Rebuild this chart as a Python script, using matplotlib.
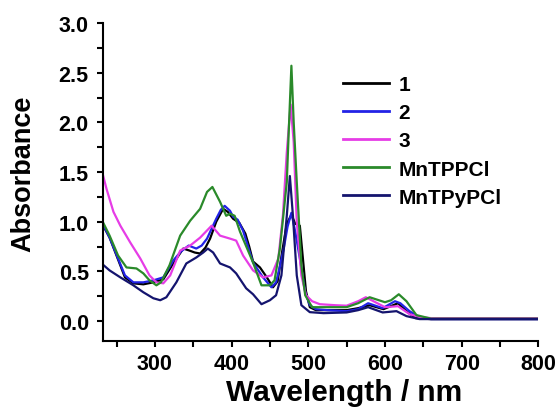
import matplotlib
matplotlib.use("Agg")
import matplotlib.pyplot as plt
from matplotlib.ticker import MultipleLocator

plt.rcParams['font.family'] = ['Liberation Sans', 'DejaVu Sans']
plt.rcParams['font.weight'] = 'bold'

# UV-vis spectra
wl_1 = [232, 241, 252, 261, 272, 285, 298, 311, 324, 337, 345, 352, 359, 366, 372, 380,
        389, 395, 402, 410, 418, 423, 428, 437, 446, 454, 460, 466, 472, 478, 483, 489,
        493, 497, 502, 510, 525, 550, 565, 580, 598, 617, 628, 640, 660, 700, 750, 800]
abs_1 = [0.97, 0.84, 0.62, 0.44, 0.38, 0.37, 0.39, 0.42, 0.58, 0.73, 0.71, 0.69, 0.68, 0.74,
         0.83, 1.00, 1.13, 1.10, 1.03, 0.99, 0.88, 0.75, 0.60, 0.54, 0.44, 0.34, 0.40, 0.70,
         0.98, 1.07, 0.98, 0.96, 0.63, 0.30, 0.14, 0.11, 0.11, 0.11, 0.13, 0.16, 0.12, 0.18,
         0.10, 0.03, 0.02, 0.02, 0.02, 0.02]

wl_2 = [232, 241, 252, 261, 272, 285, 298, 311, 324, 334, 344, 354, 361, 368, 374, 380,
        386, 391, 398, 402, 408, 415, 419, 428, 441, 452, 458, 463, 468, 473, 478, 483,
        489, 496, 502, 510, 525, 550, 565, 578, 597, 613, 620, 632, 645, 660, 700, 750, 800]
abs_2 = [0.98, 0.84, 0.63, 0.46, 0.39, 0.39, 0.41, 0.44, 0.61, 0.70, 0.76, 0.73, 0.76, 0.83,
         0.93, 1.03, 1.12, 1.16, 1.11, 1.05, 1.02, 0.91, 0.81, 0.59, 0.44, 0.34, 0.39, 0.55,
         0.73, 0.95, 1.09, 0.90, 0.63, 0.29, 0.16, 0.12, 0.11, 0.10, 0.12, 0.18, 0.13, 0.20,
         0.18, 0.10, 0.04, 0.02, 0.02, 0.02, 0.02]

wl_3 = [232, 237, 246, 255, 268, 281, 293, 302, 311, 320, 333, 346, 359, 374, 385, 398,
        406, 415, 428, 441, 452, 461, 467, 472, 477, 481, 485, 491, 497, 505, 515, 535,
        550, 565, 575, 590, 600, 617, 632, 645, 660, 700, 750, 800]
abs_3 = [1.48, 1.33, 1.10, 0.96, 0.79, 0.63, 0.46, 0.39, 0.38, 0.46, 0.71, 0.76, 0.84, 0.96,
         0.86, 0.83, 0.81, 0.66, 0.51, 0.44, 0.46, 0.63, 1.07, 1.70, 2.18, 1.80, 1.00, 0.46,
         0.26, 0.20, 0.17, 0.16, 0.155, 0.20, 0.24, 0.18, 0.14, 0.15, 0.07, 0.04, 0.03, 0.03,
         0.03, 0.03]

wl_tpp = [232, 241, 252, 263, 276, 285, 293, 302, 308, 319, 333, 346, 359, 368, 375, 385,
          393, 398, 404, 411, 428, 439, 450, 456, 463, 468, 472, 475, 478, 481, 485, 491,
          496, 505, 520, 550, 565, 580, 600, 608, 618, 628, 641, 660, 700, 750, 800]
abs_tpp = [1.00, 0.86, 0.66, 0.54, 0.53, 0.48, 0.41, 0.36, 0.39, 0.56, 0.86, 1.01, 1.13, 1.30,
           1.35, 1.20, 1.06, 1.08, 1.06, 0.90, 0.59, 0.36, 0.36, 0.41, 0.73, 1.10, 1.40, 2.00,
           2.57, 2.00, 1.40, 0.56, 0.26, 0.14, 0.14, 0.14, 0.18, 0.24, 0.19, 0.21, 0.27, 0.20,
           0.06, 0.025, 0.025, 0.025, 0.025]

wl_tpyp = [232, 241, 255, 272, 285, 298, 307, 315, 328, 341, 354, 363, 369, 376, 385, 398,
           406, 419, 428, 439, 450, 458, 465, 472, 476, 480, 485, 491, 502, 520, 550, 565,
           578, 597, 615, 628, 645, 660, 700, 750, 800]
abs_tpyp = [0.57, 0.51, 0.44, 0.36, 0.29, 0.23, 0.21, 0.24, 0.39, 0.58, 0.64, 0.69, 0.73, 0.69,
            0.58, 0.54, 0.48, 0.33, 0.27, 0.17, 0.21, 0.26, 0.46, 1.06, 1.46, 1.06, 0.46, 0.16,
            0.09, 0.08, 0.087, 0.11, 0.14, 0.087, 0.10, 0.05, 0.02, 0.02, 0.02, 0.02, 0.02]

series = [
    ('1', wl_1, abs_1, '#000000'),
    ('2', wl_2, abs_2, '#2222e6'),
    ('3', wl_3, abs_3, '#e63ce6'),
    ('MnTPPCl', wl_tpp, abs_tpp, '#2a8a2a'),
    ('MnTPyPCl', wl_tpyp, abs_tpyp, '#14146e'),
]

fig = plt.figure(figsize=(5.6, 4.14), dpi=100)
ax = fig.add_axes([0.1834, 0.174, 0.778, 0.768])

for label, x, y, c in series:
    ax.plot(x, y, color=c, lw=1.6, label=label)

ax.set_xlim(232, 800)
ax.set_ylim(-0.2, 3.0)
ax.xaxis.set_major_locator(MultipleLocator(100))
ax.xaxis.set_minor_locator(MultipleLocator(50))
ax.yaxis.set_major_locator(MultipleLocator(0.5))
ax.yaxis.set_minor_locator(MultipleLocator(0.25))
ax.set_xticks([300, 400, 500, 600, 700, 800])

for s in ['top', 'right']:
    ax.spines[s].set_visible(False)
for s in ['left', 'bottom']:
    ax.spines[s].set_linewidth(1.5)

ax.tick_params(which='both', direction='out', length=4, width=1.5, labelsize=15.5)
ax.tick_params(axis='x', pad=5)
ax.tick_params(axis='y', pad=6)
for t in ax.get_xticklabels() + ax.get_yticklabels():
    t.set_fontweight('bold')

ax.set_xlabel('Wavelength / nm', fontsize=21.5, fontweight='bold')
ax.xaxis.set_label_coords(0.554, -0.115)
ax.set_ylabel('Absorbance', fontsize=19.5, fontweight='bold')
ax.yaxis.set_label_coords(-0.152, 0.528)

leg = ax.legend(loc='upper left', bbox_to_anchor=(343 / 560, 1 - 76 / 414),
                bbox_transform=fig.transFigure, frameon=False, borderpad=0,
                borderaxespad=0, handlelength=2.2, handletextpad=0.45,
                labelspacing=0.44, prop={'size': 15, 'weight': 'bold'})
for h in leg.get_lines():
    h.set_linewidth(2.0)

fig.savefig('out.png', dpi=100, facecolor='white')
